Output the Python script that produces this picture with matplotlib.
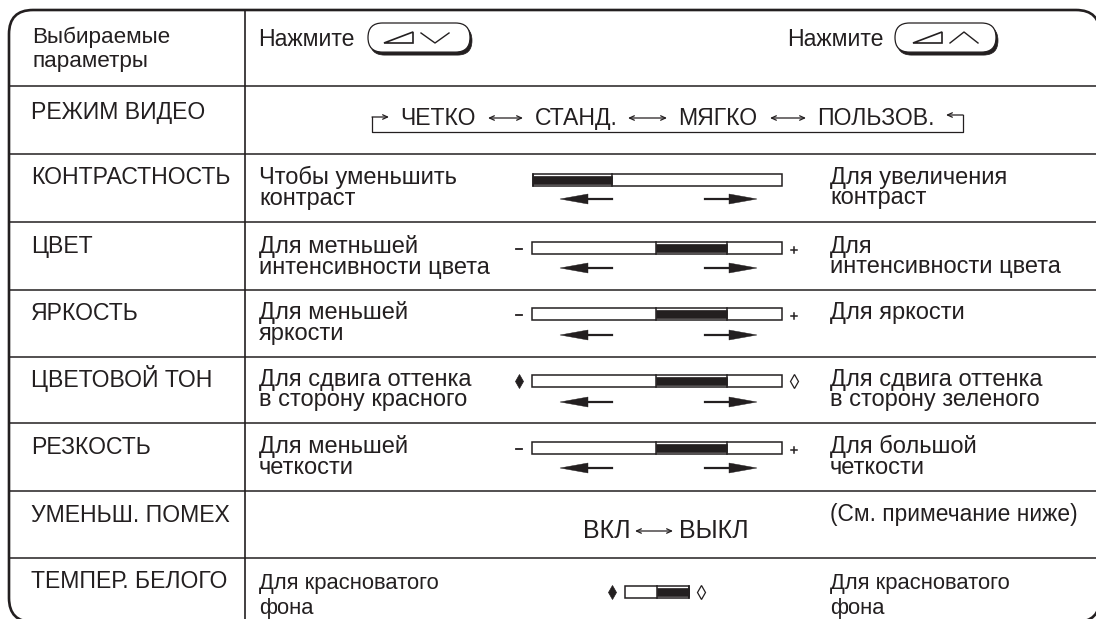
import matplotlib
matplotlib.use("Agg")
import matplotlib.pyplot as plt
from matplotlib.patches import FancyBboxPatch, Polygon, Rectangle

plt.rcParams["font.family"] = ["Liberation Sans", "DejaVu Sans"]

INK = "#231f20"

params = ["РЕЖИМ ВИДЕО", "КОНТРАСТНОСТЬ", "ЦВЕТ", "ЯРКОСТЬ", "ЦВЕТОВОЙ ТОН",
          "РЕЗКОСТЬ", "УМЕНЬШ. ПОМЕХ", "ТЕМПЕР. БЕЛОГО"]
left_text = ["", "Чтобы уменьшить\nконтраст", "Для метньшей\nинтенсивности цвета",
             "Для меньшей\nяркости", "Для сдвига оттенка\nв сторону красного",
             "Для меньшей\nчеткости", "", "Для красноватого\nфона"]
right_text = ["", "Для увеличения\nконтраст", "Для\nинтенсивности цвета",
              "Для яркости", "Для сдвига оттенка\nв сторону зеленого",
              "Для большой\nчеткости", "(См. примечание ниже)", "Для красноватого\nфона"]
modes = ["ЧЕТКО", "СТАНД.", "МЯГКО", "ПОЛЬЗОВ."]
mode_x = [438, 576, 718, 876]
mode_arrows = [(488, 523), (628, 667), (770, 806)]

row_lines = [86, 154, 222, 290, 357, 423, 491, 558]
param_y = [112, 177, 246, 312, 379, 446, 514, 581]

# bar: y, x0, x1, fill0, fill1, left mark, right mark
bars = [(180, 533, 782, 533, 612, "", ""),
        (248, 532, 782, 656, 727, "-", "+"),
        (314, 532, 782, 656, 727, "-", "+"),
        (381, 532, 782, 656, 727, "D", "d"),
        (448, 532, 782, 656, 727, "-", "+")]
arrow_y = [199, 268, 335, 402, 468]

fig = plt.figure(figsize=(10.96, 6.19), dpi=100)
ax = fig.add_axes([0, 0, 1, 1])
ax.set_xlim(0, 1096)
ax.set_ylim(619, 0)
ax.axis("off")

ax.add_patch(FancyBboxPatch((33, 34), 1043, 564, boxstyle="round,pad=24,rounding_size=24",
                            fc="white", ec=INK, lw=1.9))

for y in row_lines:
    ax.plot([10, 1096], [y, y], color=INK, lw=1.1)
ax.plot([245, 245], [10, 619], color=INK, lw=1.2)


def txt(x, y, s, size=16.6, ls=0.91, **kw):
    ax.text(x, y, s, fontsize=size, color=INK, va="center", linespacing=ls, **kw)


def base_txt(x, y, s, size=16.6, **kw):
    ax.text(x, y + 7.5, s, fontsize=size, color=INK, va="baseline", **kw)


def double_arrow(x0, x1, y):
    ax.annotate("", xy=(x1, y), xytext=(x0, y),
                arrowprops=dict(arrowstyle="<->,head_length=0.35,head_width=0.16", color=INK, lw=0.9,
                                shrinkA=0, shrinkB=0))


def pill(x0, x1, y0, y1, t0, up):
    r = (y1 - y0) / 2
    ax.add_patch(FancyBboxPatch((x0 + r + 2, y0 + r + 3), x1 - x0 - 2 * r, 0.1,
                                boxstyle=f"round,pad={r},rounding_size={r}", fc=INK, ec=INK, lw=0.5))
    ax.add_patch(FancyBboxPatch((x0 + r, y0 + r), x1 - x0 - 2 * r, 0.1,
                                boxstyle=f"round,pad={r},rounding_size={r}", fc="white", ec=INK, lw=0.9))
    ax.add_patch(Polygon([(t0, 43), (t0 + 29, 32), (t0 + 29, 43)], closed=True, fc="white", ec=INK, lw=1.2))
    c0 = t0 + 37
    if up:
        ax.plot([c0, c0 + 14, c0 + 28], [43, 32, 43], color=INK, lw=1)
    else:
        ax.plot([c0, c0 + 14, c0 + 28], [33, 43, 33], color=INK, lw=1)


def slider(y, x0, x1, f0, f1, lm, rm):
    ax.add_patch(Rectangle((x0, y - 6), x1 - x0, 12, fc="white", ec=INK, lw=1.1))
    ax.add_patch(Rectangle((f0, y - 4), f1 - f0, 8, fc=INK, ec=INK, lw=0.5))
    ax.plot([f0, f0], [y - 6, y + 6], color=INK, lw=1.1)
    ax.plot([f1, f1], [y - 6, y + 6], color=INK, lw=1.1)
    mark(x0 - 13, y, lm)
    mark(x1 + 12, y, rm)


def mark(x, y, kind):
    if kind == "-":
        ax.plot([x - 3, x + 3], [y + 1, y + 1], color=INK, lw=1.3)
    elif kind == "+":
        ax.plot([x - 3, x + 3], [y + 2, y + 2], color=INK, lw=1.1)
        ax.plot([x, x], [y - 1, y + 5], color=INK, lw=1.1)
    elif kind == "D":
        ax.plot(x, y, marker="d", ms=7, mfc=INK, mec=INK, mew=0.5, ls="none")
    elif kind == "d":
        ax.plot(x, y, marker="d", ms=7, mfc="white", mec=INK, mew=0.9, ls="none")


def arrow_pair(y):
    ax.plot([588, 612], [y, y], color=INK, lw=1.6)
    ax.add_patch(Polygon([(560, y), (588, y - 5), (588, y + 5)], closed=True, fc=INK, ec=INK, lw=0.3))
    ax.plot([705, 729], [y, y], color=INK, lw=1.6)
    ax.add_patch(Polygon([(757, y), (729, y - 5), (729, y + 5)], closed=True, fc=INK, ec=INK, lw=0.3))


txt(32, 49, "Выбираемые\nпараметры", 16.2, ls=1.18)
base_txt(258, 38.5, "Нажмите")
pill(368, 470, 23, 52, 384, False)
base_txt(787, 38.5, "Нажмите")
pill(895, 996, 23, 52, 913, True)

for y, s in zip(param_y, params):
    base_txt(31, y, s)

for i, y in enumerate(param_y):
    last = i == len(param_y) - 1
    for x, s in ((259, left_text[i]), (830, right_text[i])):
        if not s:
            continue
        if last:
            txt(x, y + 15, s, 15.8, ls=1.21)
        elif "\n" in s:
            txt(x, y + 11, s, 17)
        elif s.startswith("("):
            base_txt(x, y, s, 16.4)
        else:
            base_txt(x, y, s, 17)

for x, s in zip(mode_x, modes):
    base_txt(x, 117.5, s, ha="center")
for x0, x1 in mode_arrows:
    double_arrow(x0, x1, 118)
ax.plot([372, 372, 963, 963], [117, 132, 132, 115], color=INK, lw=0.9)
ax.annotate("", xy=(389, 117), xytext=(372, 117),
            arrowprops=dict(arrowstyle="->,head_length=0.35,head_width=0.16", color=INK, lw=0.9, shrinkA=0, shrinkB=0))
ax.annotate("", xy=(946, 115), xytext=(963, 115),
            arrowprops=dict(arrowstyle="->,head_length=0.35,head_width=0.16", color=INK, lw=0.9, shrinkA=0, shrinkB=0))

for b, y in zip(bars, arrow_y):
    slider(*b)
    arrow_pair(y)

base_txt(583, 530, "ВКЛ", 18, ha="left")
double_arrow(635, 673, 531)
base_txt(679, 530, "ВЫКЛ", 18, ha="left")

slider(592, 625, 689, 657, 689, "D", "d")

fig.savefig("out.png", dpi=100)
